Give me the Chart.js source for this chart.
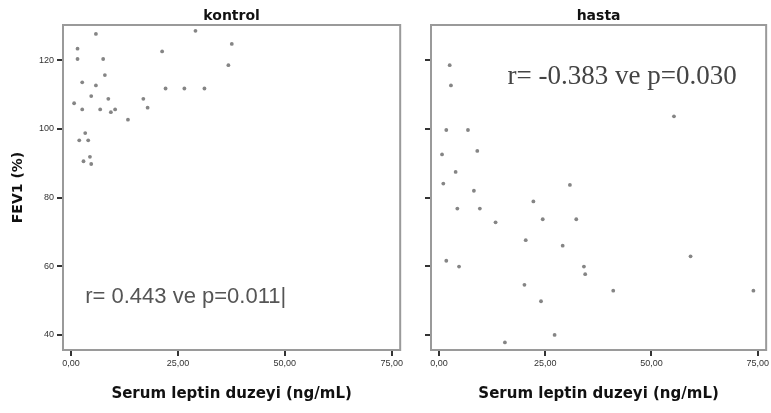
<!DOCTYPE html>
<html>
<head>
<meta charset="utf-8">
<script src="https://cdn.jsdelivr.net/npm/chart.js@4.4.1/dist/chart.umd.min.js"></script>
<style>
    html, body { margin: 0; padding: 0; background: #fff; }
    #wrap { position: relative; width: 771px; height: 413px; overflow: hidden; }
    #leftChart { position: absolute; left: 0; top: 0; }
    #rightChart { position: absolute; left: 405px; top: 0; }
</style>
</head>
<body>
<div id="wrap">
    <canvas id="leftChart" width="405" height="413"></canvas>
    <canvas id="rightChart" width="366" height="413"></canvas>
</div>
<script>
/* =====================
   Data
===================== */
const X_TICKS = [0, 25, 50, 75];
const Y_TICKS = [40, 60, 80, 100, 120];

const kontrolX = [5.8, 1.5, 1.5, 7.5, 21.3, 7.9, 22.1, 2.6, 5.8, 4.7, 8.7, 16.9, 0.7, 2.6, 6.8,
    10.3, 9.3, 17.9, 13.3, 3.3, 1.9, 4.0, 4.4, 2.9, 4.7, 29.1, 37.6, 36.8, 26.5, 31.2];
const kontrolY = [127.7, 123.4, 120.4, 120.4, 122.6, 115.7, 111.8, 113.6, 112.7, 109.6, 108.8, 108.8, 107.5, 105.7, 105.7,
    105.7, 104.9, 106.2, 102.7, 98.8, 96.7, 96.7, 91.9, 90.6, 89.8, 128.6, 124.8, 118.6, 111.8, 111.8];

const hastaX = [2.5, 2.8, 1.7, 6.8, 0.7, 9.0, 3.9, 1.0, 8.2, 4.3, 9.6, 13.3, 22.2, 24.4, 32.3,
    20.4, 29.1, 1.7, 4.7, 34.1, 34.4, 20.1, 41.0, 24.0, 27.2, 15.5, 74.0, 55.3, 30.8, 59.2];
const hastaY = [118.6, 112.7, 99.7, 99.7, 92.6, 93.6, 87.5, 84.1, 82.0, 76.8, 76.8, 72.8, 78.9, 73.7, 73.7,
    67.6, 66.0, 61.6, 59.9, 59.9, 57.7, 54.6, 52.9, 49.8, 40.0, 37.8, 52.9, 103.7, 83.7, 62.9];

const X_TITLE = 'Serum leptin duzeyi (ng/mL)';
const Y_TITLE = 'FEV1 (%)';

/* =====================
   Helpers / plugins
===================== */
function toPoints(xs, ys) {
    return xs.map((x, i) => ({ x: x, y: ys[i] }));
}

// frame around plot + panel title + r/p text
const panelPlugin = {
    id: 'panel',
    afterDraw(chart, args, opts) {
        const ctx = chart.ctx;
        const a = chart.chartArea;
        ctx.save();
        ctx.strokeStyle = '#9a9a9a';
        ctx.lineWidth = 2;
        ctx.strokeRect(a.left, a.top, a.right - a.left, a.bottom - a.top);

        ctx.fillStyle = '#111';
        ctx.font = 'bold 14px "DejaVu Sans", sans-serif';
        ctx.textAlign = 'center';
        ctx.textBaseline = 'middle';
        ctx.fillText(opts.title, (a.left + a.right) / 2, 16);

        const xs = chart.scales.x, ys = chart.scales.y;
        ctx.fillStyle = opts.noteColor;
        ctx.font = opts.noteFont;
        ctx.textAlign = 'left';
        ctx.textBaseline = 'alphabetic';
        ctx.fillText(opts.note, xs.getPixelForValue(opts.noteAt[0]), ys.getPixelForValue(opts.noteAt[1]));
        ctx.restore();
    }
};

function makeOptions(yWidth, padRight, showYLabels, panel) {
    return {
        responsive: false,
        animation: false,
        layout: { autoPadding: false, padding: { top: 25, right: padRight, bottom: 0, left: 0 } },
        plugins: {
            legend: { display: false },
            tooltip: { enabled: false },
            panel: panel
        },
        scales: {
            x: {
                type: 'linear',
                min: -1.9,
                max: 77,
                afterBuildTicks: s => { s.ticks = X_TICKS.map(v => ({ value: v })); },
                afterFit: s => { s.height = 63; },
                grid: { drawOnChartArea: false, tickLength: 6, color: '#333', lineWidth: 2 },
                border: { display: false },
                ticks: {
                    color: '#333',
                    padding: 2,
                    maxRotation: 0,
                    font: { size: 9, family: 'Liberation Sans' },
                    callback: v => v.toFixed(2).replace('.', ',')
                },
                title: {
                    display: true,
                    text: X_TITLE,
                    color: '#111',
                    padding: { top: 0, bottom: 10 },
                    font: { size: 15, weight: 'bold', family: 'DejaVu Sans' }
                }
            },
            y: {
                type: 'linear',
                min: 35.6,
                max: 130.3,
                afterBuildTicks: s => { s.ticks = Y_TICKS.map(v => ({ value: v })); },
                afterFit: s => { s.width = yWidth; },
                grid: { drawOnChartArea: false, tickLength: 6, color: '#333', lineWidth: 2 },
                border: { display: false },
                ticks: {
                    display: showYLabels,
                    color: '#333',
                    padding: 3,
                    font: { size: 9, family: 'Liberation Sans' }
                },
                title: {
                    display: showYLabels,
                    text: Y_TITLE,
                    color: '#111',
                    padding: { top: 10, bottom: 0 },
                    font: { size: 14, weight: 'bold', family: 'DejaVu Sans' }
                }
            }
        }
    };
}

const dotStyle = {
    pointRadius: 1.9,
    pointBackgroundColor: '#858585',
    pointBorderWidth: 0
};

/* =====================
   kontrol
===================== */
new Chart(document.getElementById('leftChart'), {
    type: 'scatter',
    data: { datasets: [{ label: 'kontrol', data: toPoints(kontrolX, kontrolY), ...dotStyle }] },
    options: makeOptions(63, 4, true, {
        title: 'kontrol',
        note: 'r= 0.443 ve p=0.011|',
        noteAt: [3.3, 49.3],
        noteColor: '#555',
        noteFont: '22px "Liberation Sans", Arial, sans-serif'
    }),
    plugins: [panelPlugin]
});

/* =====================
   hasta
===================== */
new Chart(document.getElementById('rightChart'), {
    type: 'scatter',
    data: { datasets: [{ label: 'hasta', data: toPoints(hastaX, hastaY), ...dotStyle }] },
    options: makeOptions(26, 3, false, {
        title: 'hasta',
        note: 'r= -0.383 ve p=0.030',
        noteAt: [16.1, 113.1],
        noteColor: '#444',
        noteFont: '27px "Liberation Serif", "Times New Roman", serif'
    }),
    plugins: [panelPlugin]
});
</script>
</body>
</html>
